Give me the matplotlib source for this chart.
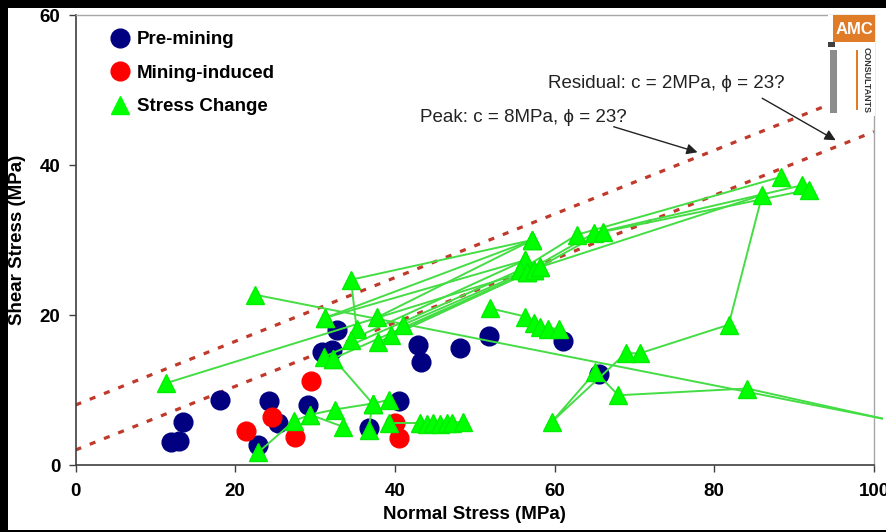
import numpy as np
import matplotlib
matplotlib.use('Agg')
import matplotlib.pyplot as plt
from matplotlib.patches import Rectangle
from matplotlib.lines import Line2D

plt.rcParams['font.family'] = ['Liberation Sans', 'DejaVu Sans']

# Stan naprezen przed eksploatacja
pre_x = [12.0, 12.9, 13.5, 18.1, 22.9, 24.2, 25.4, 29.1, 30.9, 32.1, 32.8,
         36.7, 40.5, 42.9, 43.3, 48.1, 51.8, 61.1, 65.5]
pre_y = [3.1, 3.2, 5.7, 8.7, 2.7, 8.5, 5.6, 8.0, 15.1, 15.3, 18.0,
         4.9, 8.5, 16.0, 13.7, 15.6, 17.2, 16.5, 12.1]

# Naprezenia wywolane eksploatacja
ind_x = [21.4, 24.6, 27.5, 29.5, 40.0, 40.5]
ind_y = [4.5, 6.4, 3.7, 11.2, 5.6, 3.6]

# Sciezki zmian naprezen (kolejne stany)
paths = [
    [(11.3, 10.9), (56.5, 25.8)],
    [(22.5, 22.7), (101.0, 6.2)],
    [(57.2, 30.0), (34.5, 24.7), (35.2, 18.2)],
    [(31.2, 19.6), (57.2, 30.0)],
    [(31.2, 19.6), (56.3, 27.3)],
    [(31.1, 14.4), (55.7, 26.0)],
    [(32.3, 14.2), (57.4, 26.0)],
    [(22.9, 1.7), (27.4, 5.9), (29.4, 6.7), (32.5, 7.4), (37.2, 8.2), (32.3, 14.2)],
    [(29.4, 6.7), (33.5, 5.1)],
    [(37.2, 8.2), (39.3, 8.7)],
    [(37.2, 8.2), (36.7, 4.7)],
    [(39.2, 5.6), (43.2, 5.6), (44.0, 5.5), (44.8, 5.6), (45.7, 5.5),
     (46.5, 5.6), (47.1, 5.6), (48.5, 5.8)],
    [(34.5, 16.7), (56.3, 27.3)],
    [(37.9, 16.4), (57.4, 26.0)],
    [(39.5, 17.3), (58.2, 26.4)],
    [(41.0, 18.7), (56.5, 25.8)],
    [(37.8, 19.7), (57.2, 30.0)],
    [(55.7, 26.0), (62.8, 30.7), (88.3, 38.4)],
    [(56.5, 25.8), (64.9, 30.9), (91.0, 37.3)],
    [(57.4, 26.0), (66.1, 31.1), (91.8, 36.7)],
    [(58.2, 26.4), (86.0, 36.0), (81.8, 18.7), (70.7, 14.9), (68.9, 14.9),
     (59.7, 5.8), (65.1, 12.4), (68.0, 9.3), (84.1, 10.2), (101.0, 6.2)],
    [(51.9, 20.9), (56.3, 19.8), (57.4, 18.9), (58.2, 18.4), (59.2, 18.2), (60.5, 18.2)],
]

# Kryteria Coulomba: szczytowe i rezydualne
phi = 23.0
c_peak = 8.0
c_res = 2.0

xticks = [0, 20, 40, 60, 80, 100]
yticks = [0, 20, 40, 60]

fig = plt.figure(figsize=(8.87, 5.32), dpi=100, facecolor='black')
fig.patches.append(Rectangle((8 / 887, 2 / 532), 879 / 887, 522 / 532,
                             transform=fig.transFigure, facecolor='white',
                             edgecolor='none', zorder=-10))
ax = fig.add_axes([75.5 / 887, 67 / 532, 798.5 / 887, 450 / 532])

xs = np.array([0.0, 100.0])
for c in (c_peak, c_res):
    ax.plot(xs, c + xs * np.tan(np.radians(phi)), color='#C0392B',
            lw=2.3, ls=(0, (1.9, 2.9)), zorder=1)

ax.plot(pre_x, pre_y, 'o', color='#000080', ms=13.5, mec='#000080', zorder=2)
ax.plot(ind_x, ind_y, 'o', color='#FF0000', ms=13.5, mec='#FF0000', zorder=3)

for p in paths:
    px = [q[0] for q in p]
    py = [q[1] for q in p]
    ax.plot(px, py, '-', color='#44DD44', lw=1.4, zorder=4, clip_on=False)

tx = [q[0] for p in paths for q in p if q[0] <= 100]
ty = [q[1] for p in paths for q in p if q[0] <= 100]
ax.plot(tx, ty, '^', color='#00FF00', ms=13.5, mec='#00EE00', zorder=5)

ax.set_xlim(0, 100)
ax.set_ylim(0, 60)
ax.set_xticks(xticks)
ax.set_xticklabels([str(v) for v in xticks], fontweight='bold', fontsize=13.5)
ax.set_yticks(yticks)
ax.set_yticklabels([str(v) for v in yticks], fontweight='bold', fontsize=13.5)
ax.tick_params(axis='x', direction='out', length=5, width=1, color='#404040', pad=8)
ax.tick_params(axis='y', direction='out', length=5, width=1, color='#404040', pad=6)
for s in ('left', 'bottom'):
    ax.spines[s].set_color('#404040')
    ax.spines[s].set_linewidth(1.2)
for s in ('top', 'right'):
    ax.spines[s].set_color('#A6A6A6')
    ax.spines[s].set_linewidth(1.0)

ax.text(0.5, -0.111, 'Normal Stress (MPa)', transform=ax.transAxes,
        ha='center', va='center', fontsize=13.5, fontweight='bold')
ax.text(-0.0726, 0.5, 'Shear Stress (MPa)', transform=ax.transAxes,
        ha='center', va='center', rotation=90, fontsize=13.5, fontweight='bold')

handles = [
    Line2D([], [], marker='o', ls='none', color='#000080', ms=13.5),
    Line2D([], [], marker='o', ls='none', color='#FF0000', ms=13.5),
    Line2D([], [], marker='^', ls='none', color='#00FF00', ms=13.5),
]
ax.legend(handles, ['Pre-mining', 'Mining-induced', 'Stress Change'],
          loc='upper left', bbox_to_anchor=(0.044, 0.964), frameon=False,
          prop={'weight': 'bold', 'size': 13.5}, handlelength=1.0,
          handletextpad=0.4, labelspacing=0.87, borderpad=0, borderaxespad=0)

ax.text(59.2, 50.9, 'Residual: c = 2MPa, ϕ = 23?', fontsize=13.5,
        color='#222222', va='center', ha='left')
ax.text(43.2, 46.3, 'Peak: c = 8MPa, ϕ = 23?', fontsize=13.5,
        color='#222222', va='center', ha='left')
ax.annotate('', xy=(95.2, 43.3), xytext=(86.0, 48.9),
            arrowprops=dict(arrowstyle='-|>', color='#222222', lw=1.0,
                            mutation_scale=16, shrinkA=0, shrinkB=0))
ax.annotate('', xy=(77.9, 41.7), xytext=(67.4, 45.1),
            arrowprops=dict(arrowstyle='-|>', color='#222222', lw=1.0,
                            mutation_scale=16, shrinkA=0, shrinkB=0))

# logo w prawym gornym rogu
lg = fig.add_axes([828 / 887, 1 - 116 / 532, 47 / 887, 101 / 532])
lg.set_xlim(828, 875)
lg.set_ylim(116, 15)
lg.set_xticks([])
lg.set_yticks([])
for s in lg.spines.values():
    s.set_visible(False)
lg.set_facecolor('white')
lg.add_patch(Rectangle((833, 15), 42, 27, facecolor='#E07B28', edgecolor='none'))
lg.text(854, 29, 'AMC', color='white', fontsize=12, fontweight='bold',
        ha='center', va='center')
lg.add_patch(Rectangle((828, 42), 7, 5, facecolor='#404040', edgecolor='none'))
lg.add_patch(Rectangle((830, 50), 7, 63, facecolor='#8C8C8C', edgecolor='none'))
lg.add_patch(Rectangle((856, 50), 1.6, 60, facecolor='#E07B28', edgecolor='none'))
lg.text(866, 80, 'CONSULTANTS', color='#333333', fontsize=6.4, fontweight='bold',
        rotation=-90, ha='center', va='center')

fig.savefig('out.png', dpi=100, facecolor=fig.get_facecolor())
